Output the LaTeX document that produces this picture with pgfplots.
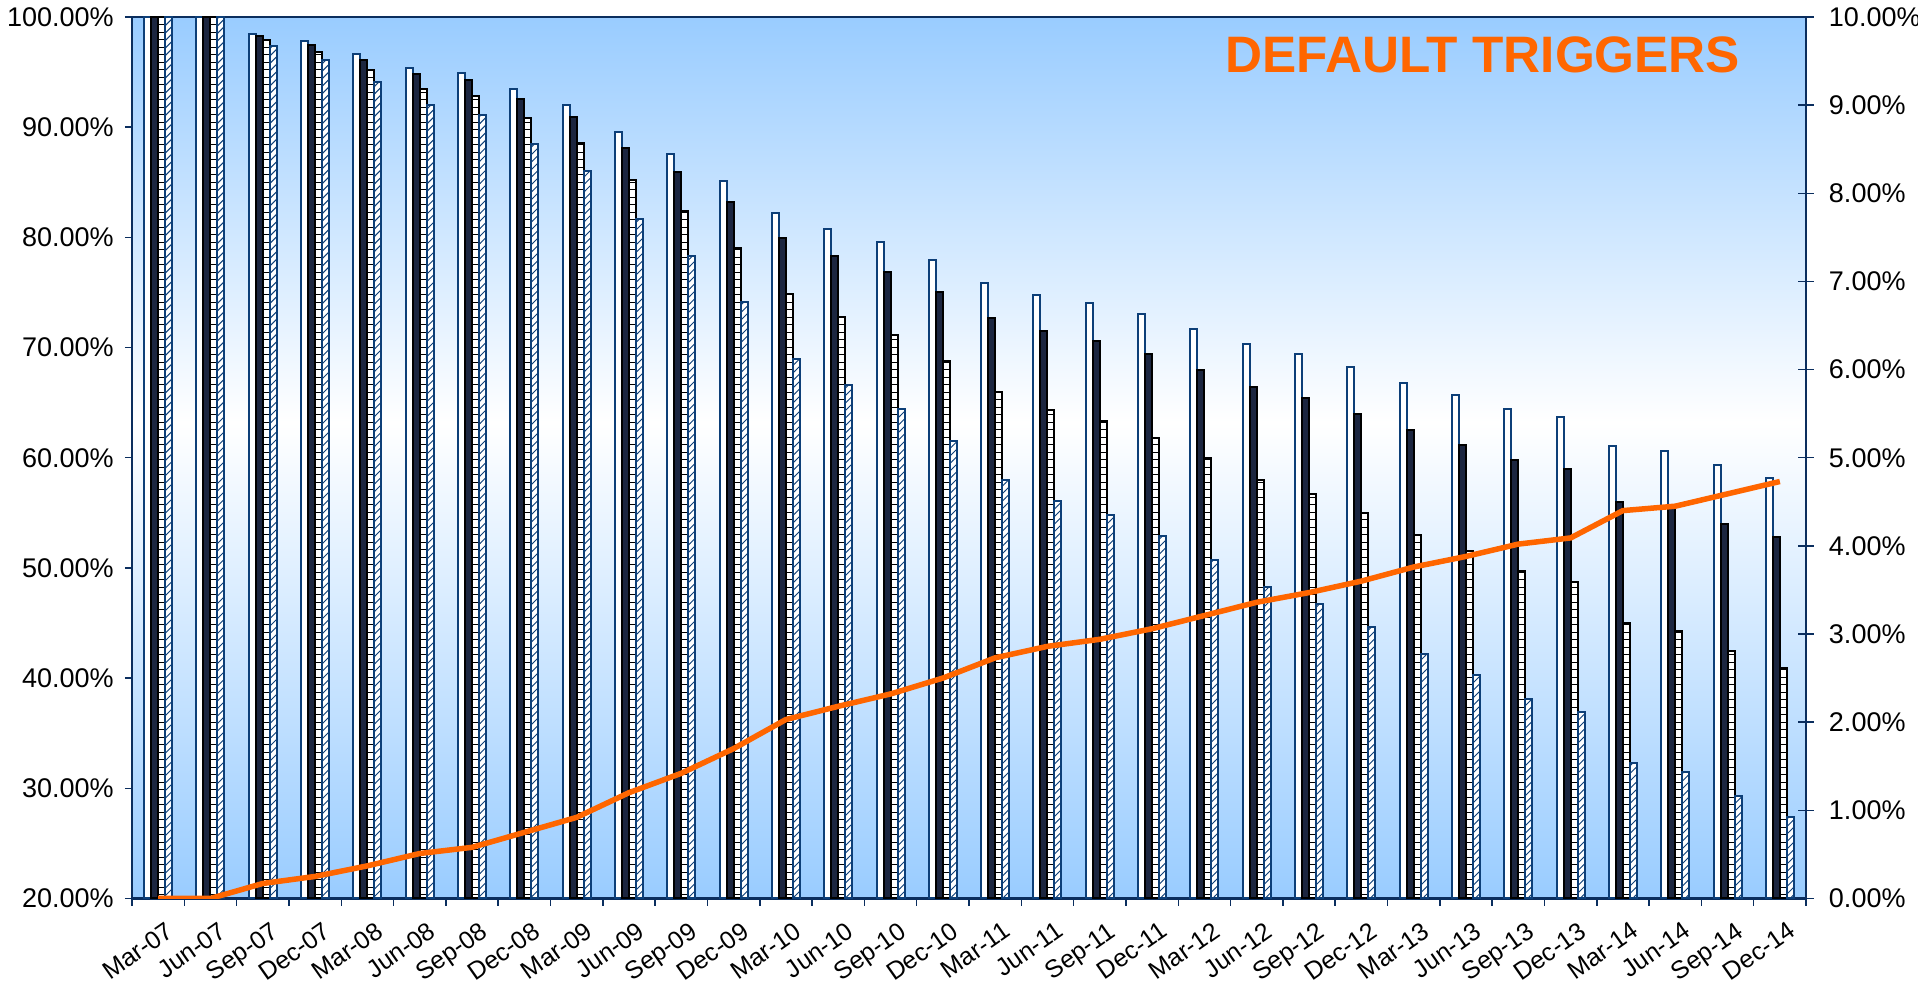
\documentclass[border=0pt]{standalone}
\usepackage{fontspec}
\setmainfont{Liberation Sans}
\usepackage{pgfplots}
\pgfplotsset{compat=1.18}
\usepackage{pgfplotstable}
\usetikzlibrary{patterns}
\definecolor{bgblue}{HTML}{99CCFF}
\definecolor{axnavy}{HTML}{0B2E5E}
\definecolor{barnavy}{HTML}{0D3F78}
\definecolor{bardark}{HTML}{1C2640}
\definecolor{lineorange}{HTML}{FF6600}
\pgfdeclareverticalshading{bgshade}{100bp}{color(0bp)=(bgblue); color(25bp)=(bgblue); color(52bp)=(white); color(75bp)=(bgblue); color(100bp)=(bgblue)}

\pgfplotstableread{
x B1 B2 B3 B4 L
0 100 100 100 100 0.00
1 100 100 100 100 0.00
2 98.5 98.3 97.9 97.4 0.17
3 97.8 97.5 96.8 96.1 0.25
4 96.6 96.1 95.2 94.1 0.37
5 95.4 94.8 93.5 92.0 0.51
6 94.9 94.3 92.8 91.1 0.58
7 93.5 92.6 90.8 88.5 0.75
8 92.0 90.9 88.6 86.0 0.92
9 89.6 88.1 85.2 81.7 1.20
10 87.6 85.9 82.4 78.3 1.42
11 85.1 83.2 79.0 74.1 1.70
12 82.2 79.9 74.9 69.0 2.03
13 80.8 78.3 72.8 66.6 2.18
14 79.6 76.9 71.1 64.4 2.32
15 77.9 75.0 68.8 61.5 2.50
16 75.9 72.7 66.0 58.0 2.73
17 74.8 71.5 64.3 56.1 2.86
18 74.0 70.6 63.3 54.8 2.94
19 73.0 69.4 61.8 52.9 3.06
20 71.7 68.0 60.0 50.7 3.21
21 70.3 66.4 58.0 48.3 3.36
22 69.4 65.4 56.7 46.7 3.47
23 68.2 64.0 55.0 44.6 3.60
24 66.8 62.5 53.0 42.2 3.76
25 65.7 61.2 51.5 40.3 3.88
26 64.4 59.8 49.7 38.1 4.02
27 63.7 59.0 48.7 36.9 4.09
28 61.1 56.0 45.0 32.3 4.40
29 60.6 55.4 44.3 31.5 4.45
30 59.3 54.0 42.5 29.3 4.59
31 58.2 52.8 40.9 27.4 4.73
}\data

\begin{document}
\begin{tikzpicture}
\begin{axis}[
  name=main,
  scale only axis, width=669.6pt, height=352.6pt,
  xmin=-0.5, xmax=31.5, ymin=20, ymax=100,
  axis background/.style={shading=bgshade},
  axis line style={axnavy, line width=0.9pt},
  ybar=0pt, bar width=2.8pt,
  xtick={0,...,31},
  xticklabels={Mar-07,Jun-07,Sep-07,Dec-07,Mar-08,Jun-08,Sep-08,Dec-08,Mar-09,Jun-09,Sep-09,Dec-09,Mar-10,Jun-10,Sep-10,Dec-10,Mar-11,Jun-11,Sep-11,Dec-11,Mar-12,Jun-12,Sep-12,Dec-12,Mar-13,Jun-13,Sep-13,Dec-13,Mar-14,Jun-14,Sep-14,Dec-14},
  major x tick style={draw=none},
  minor xtick={-0.5,0.5,...,31.5},
  minor x tick style={axnavy, line width=0.6pt},
  minor tick length=3pt,
  major tick length=2.8pt,
  y tick style={axnavy, line width=0.6pt},
  tick align=outside,
  xtick pos=bottom, ytick pos=left,
  ytick={20,30,...,100},
  yticklabels={20.00\%,30.00\%,40.00\%,50.00\%,60.00\%,70.00\%,80.00\%,90.00\%,100.00\%},
  ticklabel style={font=\fontsize{10.8}{13}\selectfont},
  xticklabel style={font=\fontsize{10}{12}\selectfont, rotate=35, anchor=north east, inner sep=0pt, yshift=-6.5pt, xshift=-1pt},
  yticklabel style={xshift=-1pt},
]
\addplot[draw=barnavy, fill=white, line width=0.8pt] table[x=x,y=B1]{\data};
\addplot[draw=black, fill=bardark, line width=0.8pt] table[x=x,y=B2]{\data};
\addplot[draw=black, fill=white, line width=0.8pt, postaction={pattern=horizontal lines, pattern color=black}] table[x=x,y=B3]{\data};
\addplot[draw=barnavy, fill=white, line width=0.8pt, postaction={pattern=north east lines, pattern color=barnavy}] table[x=x,y=B4]{\data};
\node[font=\fontsize{20.5}{24}\selectfont\bfseries, text=lineorange] at (rel axis cs:0.807,0.957) {DEFAULT TRIGGERS};
\end{axis}
\begin{axis}[
  scale only axis, width=669.6pt, height=352.6pt,
  xmin=-0.5, xmax=31.5, ymin=0, ymax=10,
  axis x line=none, axis y line*=right,
  axis line style={axnavy, line width=0.9pt},
  ytick={0,...,10},
  yticklabels={0.00\%,1.00\%,2.00\%,3.00\%,4.00\%,5.00\%,6.00\%,7.00\%,8.00\%,9.00\%,10.00\%},
  tick align=center, major tick length=6.3pt,
  y tick style={axnavy, line width=0.6pt},
  ticklabel style={font=\fontsize{10.8}{13}\selectfont},
  yticklabel style={xshift=2.5pt},
]
\addplot[lineorange, line width=2.2pt, no markers] table[x=x,y=L]{\data};
\end{axis}
\pgfresetboundingbox
\path ([shift={(-52.8pt,-35pt)}]main.south west) rectangle ([shift={(44.8pt,6.8pt)}]main.north east);
\end{tikzpicture}
\end{document}
